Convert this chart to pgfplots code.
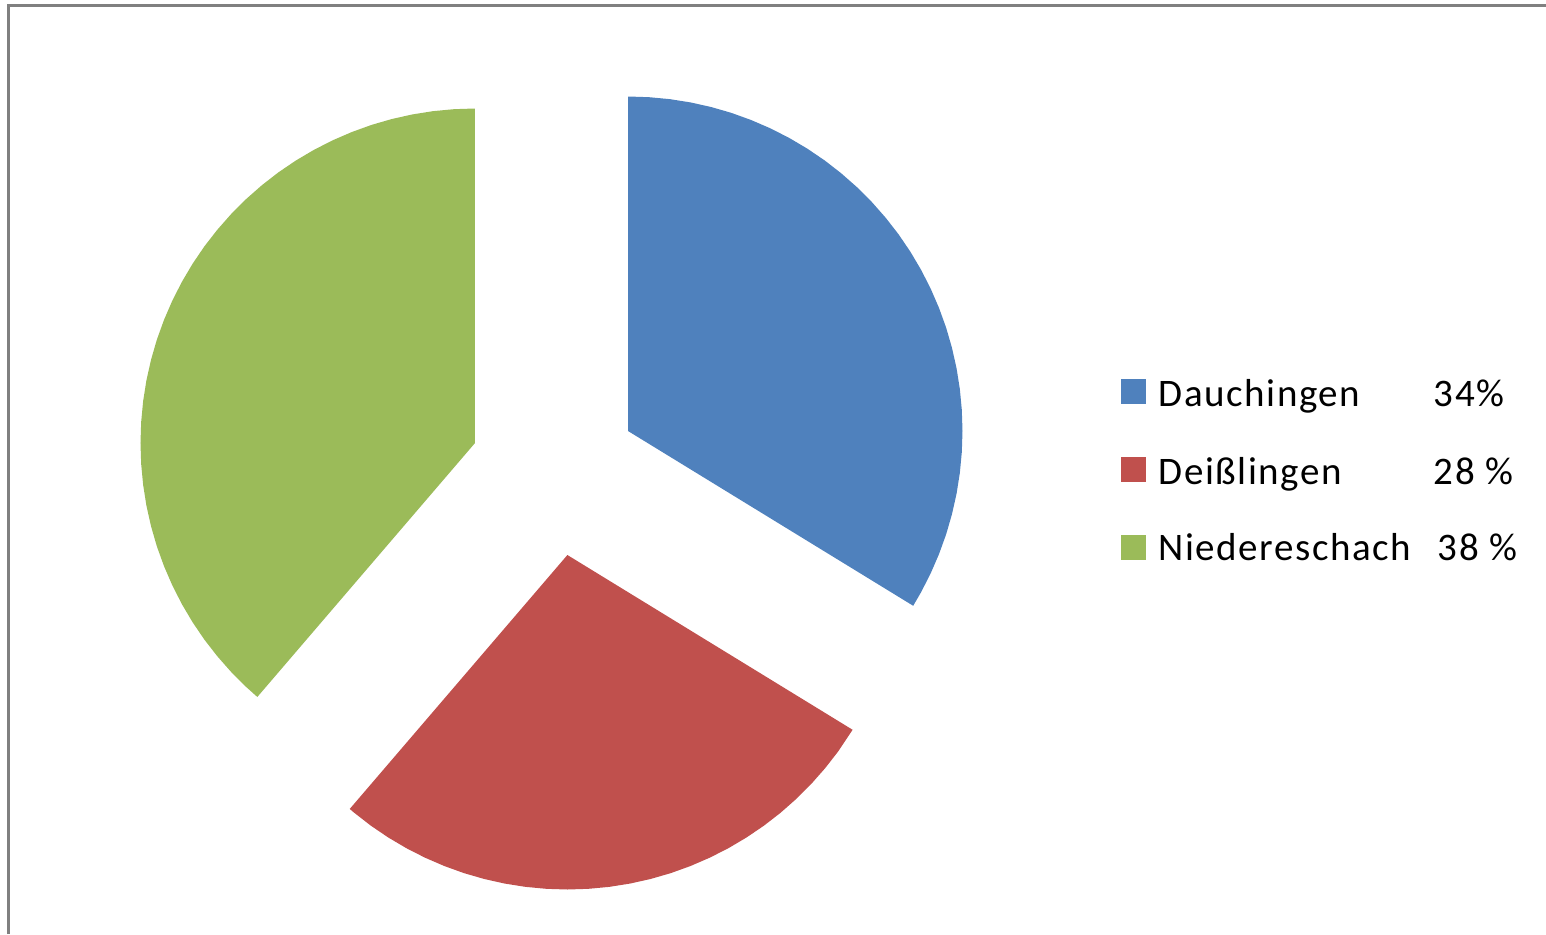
\documentclass[border=0pt]{standalone}
\usepackage{pgfplots}
\pgfplotsset{compat=1.18}
\usepgfplotslibrary{polar}
\usepackage{fontspec}
\setmainfont{Carlito}
\newfontfamily\legfont[LetterSpace=4]{Carlito}
\definecolor{cblue}{HTML}{4F81BD}
\definecolor{cred}{HTML}{C0504D}
\definecolor{cgreen}{HTML}{9BBB59}
% shares (%): Dauchingen 34, Deisslingen 28, Niedereschach 38
\pgfplotsset{pieax/.style={hide axis, scale only axis, width=6.69cm, height=6.69cm,
  ymin=0, ymax=1, xmin=0, xmax=360, anchor=center, clip=false}}
\begin{document}
\begin{tikzpicture}
\path[use as bounding box] (0,0) rectangle (15.46,9.34);
\draw[black!50, line width=0.03cm] (0.09,0) -- (0.09,9.29) -- (15.46,9.29);
% Dauchingen
\begin{polaraxis}[pieax, at={(6.280cm,5.030cm)}]
\addplot[fill=cblue, draw=none] coordinates {
(0,0) (90,1) (86.4,1) (82.8,1) (79.2,1) (75.6,1) (72,1) (68.4,1) (64.8,1) (61.2,1) (57.6,1)
(54,1) (50.4,1) (46.8,1) (43.2,1) (39.6,1) (36,1) (32.4,1) (28.8,1) (25.2,1) (21.6,1)
(18,1) (14.4,1) (10.8,1) (7.2,1) (3.6,1) (0,1) (-3.6,1) (-7.2,1) (-10.8,1) (-14.4,1)
(-18,1) (-21.6,1) (-25.2,1) (-28.8,1) (-31.5,1) (0,0)};
\end{polaraxis}
% Deisslingen
\begin{polaraxis}[pieax, at={(5.674cm,3.790cm)}]
\addplot[fill=cred, draw=none] coordinates {
(0,0) (-31.5,1) (-36,1) (-39.6,1) (-43.2,1) (-46.8,1) (-50.4,1) (-54,1) (-57.6,1) (-61.2,1)
(-64.8,1) (-68.4,1) (-72,1) (-75.6,1) (-79.2,1) (-82.8,1) (-86.4,1) (-90,1) (-93.6,1)
(-97.2,1) (-100.8,1) (-104.4,1) (-108,1) (-111.6,1) (-115.2,1) (-118.8,1) (-122.4,1)
(-126,1) (-129.6,1) (-130.6,1) (0,0)};
\end{polaraxis}
% Niedereschach
\begin{polaraxis}[pieax, at={(4.750cm,4.910cm)}]
\addplot[fill=cgreen, draw=none] coordinates {
(0,0) (-130.6,1) (-133.2,1) (-136.8,1) (-140.4,1) (-144,1) (-147.6,1) (-151.2,1) (-154.8,1) (-158.4,1)
(-162,1) (-165.6,1) (-169.2,1) (-172.8,1) (-176.4,1) (-180,1) (-183.6,1) (-187.2,1)
(-190.8,1) (-194.4,1) (-198,1) (-201.6,1) (-205.2,1) (-208.8,1) (-212.4,1) (-216,1)
(-219.6,1) (-223.2,1) (-226.8,1) (-230.4,1) (-234,1) (-237.6,1) (-241.2,1) (-244.8,1)
(-248.4,1) (-252,1) (-255.6,1) (-259.2,1) (-262.8,1) (-266.4,1) (-270,1) (0,0)};
\end{polaraxis}
% legend
\fill[cblue] (11.21,5.30) rectangle (11.46,5.55);
\fill[cred] (11.21,4.52) rectangle (11.46,4.77);
\fill[cgreen] (11.21,3.74) rectangle (11.46,3.99);
\begin{scope}[every node/.style={inner sep=0pt, anchor=base west, font=\legfont\fontsize{11.1pt}{13pt}\selectfont}]
\node at (11.58,5.28) {Dauchingen};
\node at (14.33,5.28) {34\%};
\node at (11.58,4.50) {Deißlingen};
\node at (14.33,4.50) {28 \%};
\node at (11.58,3.74) {Niedereschach};
\node at (14.37,3.74) {38 \%};
\end{scope}
\end{tikzpicture}
\end{document}
